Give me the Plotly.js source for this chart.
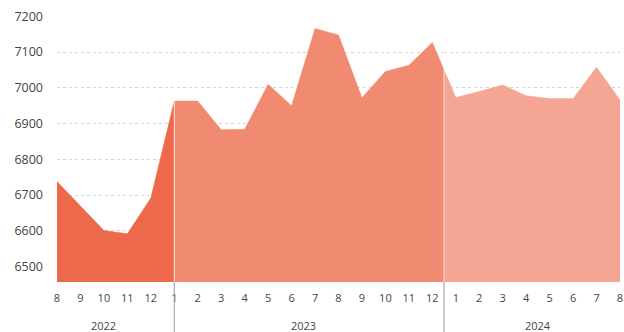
<!DOCTYPE html>
<html>
<head>
<meta charset="utf-8">
<script src="https://cdn.plot.ly/plotly-3.0.1.min.js"></script>
<style>
  html, body { margin: 0; padding: 0; background: #fff; }
  #chart { width: 624px; height: 332px; }
</style>
</head>
<body>
<div id="chart"></div>
<script>
// ---- data ----
var monthLabels = ['8','9','10','11','12',
                   '1','2','3','4','5','6','7','8','9','10','11','12',
                   '1','2','3','4','5','6','7','8'];
var yearOfPoint = ['2022','2022','2022','2022','2022',
                   '2023','2023','2023','2023','2023','2023','2023','2023','2023','2023','2023','2023',
                   '2024','2024','2024','2024','2024','2024','2024','2024'];
var values = [6738, 6668, 6601, 6592, 6692,
              6963, 6963, 6883, 6884, 7010, 6950, 7166, 7148, 6972, 7046, 7063, 7127,
              6973, 6990, 7008, 6978, 6970, 6970, 7058, 6966];
var years = ['2022', '2023', '2024'];
var yearColors = ['#EC6A4B', '#F08A70', '#F4A593'];
var yTicks = [6500, 6600, 6700, 6800, 6900, 7000, 7100, 7200];

// ---- helpers ----
var idx = values.map(function (v, i) { return i; });
function firstIdx(y) { return yearOfPoint.indexOf(y); }
function lastIdx(y) { return yearOfPoint.lastIndexOf(y); }

var s23 = firstIdx('2023'), e23 = lastIdx('2023');
var s24 = firstIdx('2024'), e24 = lastIdx('2024');
var boundary = (e23 + s24) / 2;      // divider between 2023 and 2024
var nMax = values.length - 1;

function seg(a, b) { return { x: idx.slice(a, b + 1), y: values.slice(a, b + 1) }; }

var t22 = seg(0, s23);          // 2022 area runs up to Jan 2023
var t23 = seg(s23, s24);        // 2023 area (clipped visually by 2024 subplot)
var t24 = seg(e23, e24);        // 2024 area drawn on clipped sub-axis

function areaTrace(s, color, xa) {
  return {
    type: 'scatter', mode: 'lines', x: s.x, y: s.y,
    fill: 'tozeroy', fillcolor: color,
    line: { color: color, width: 0.5 },
    hoverinfo: 'skip', xaxis: xa, yaxis: 'y', showlegend: false
  };
}

var traces = [
  areaTrace(t22, yearColors[0], 'x'),
  areaTrace(t23, yearColors[1], 'x'),
  areaTrace(t24, yearColors[2], 'x2')
];

var split = boundary / nMax;

var centers = [
  (firstIdx('2022') + lastIdx('2022')) / 2,
  (s23 + e23) / 2,
  (s24 + e24) / 2
];

var annotations = years.map(function (y, i) {
  return {
    text: y, x: centers[i], xref: 'x', y: 0, yref: 'paper',
    yanchor: 'top', xanchor: 'center', yshift: -34, showarrow: false,
    font: { family: 'Open Sans, sans-serif', size: 11, color: '#444' }
  };
});

var dividers = [s23, boundary];
var shapes = [];
dividers.forEach(function (d) {
  shapes.push({ type: 'line', xref: 'x', yref: 'paper', x0: d, x1: d, y0: 0, y1: -0.19,
                line: { color: '#9a9a9a', width: 1 }, layer: 'above' });
  shapes.push({ type: 'line', xref: 'x', yref: 'paper', x0: d, x1: d, y0: 0, y1: 1,
                line: { color: '#ffffff', width: 1 }, opacity: 0.7, layer: 'above' });
});

var layout = {
  width: 624, height: 332,
  margin: { l: 57, r: 4, t: 16, b: 50 },
  paper_bgcolor: '#ffffff', plot_bgcolor: '#ffffff',
  font: { family: 'Open Sans, sans-serif', color: '#444' },
  xaxis: {
    range: [0, nMax], domain: [0, 1],
    tickmode: 'array', tickvals: idx, ticktext: monthLabels,
    showgrid: false, zeroline: false, showline: false, ticks: '',
    ticklabelstandoff: 8,
    tickfont: { size: 11, color: '#444' }
  },
  xaxis2: {
    range: [boundary, nMax], domain: [split, 1], anchor: 'y',
    visible: false, showgrid: false, zeroline: false
  },
  yaxis: {
    range: [6457, 7201],
    tickmode: 'array', tickvals: yTicks,
    showgrid: true, gridcolor: '#d4d4d4', griddash: 'dot', gridwidth: 1,
    zeroline: false, showline: false, ticks: '',
    ticklabelstandoff: 13,
    tickfont: { size: 12.5, color: '#444' }
  },
  annotations: annotations,
  shapes: shapes
};

Plotly.newPlot('chart', traces, layout, { displayModeBar: false, staticPlot: true });
</script>
</body>
</html>
